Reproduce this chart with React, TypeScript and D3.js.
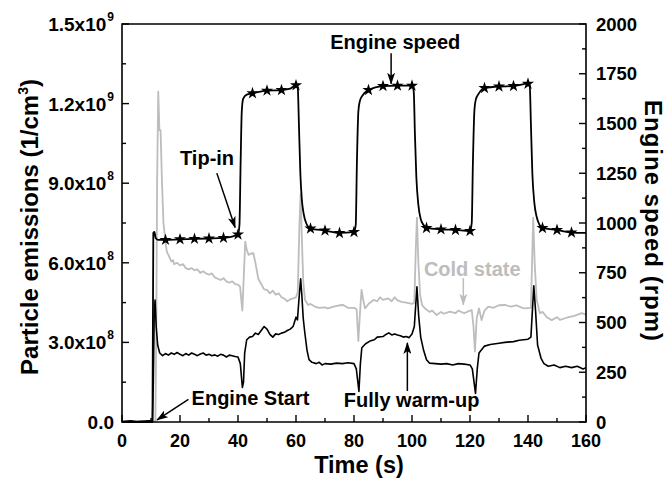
import React, { useEffect, useRef } from 'react';
import * as d3 from 'd3';

const W = 670;
const H = 478;
const margin = { top: 24, right: 84, bottom: 56, left: 122 };

// engine speed, [time s, rpm]
const speedRpm: [number, number][] = [
  [0, 0], [10.5, 0], [10.8, 950], [11.2, 955], [11.6, 925], [12.5, 915], [15, 915], [20, 918],
  [25, 920], [30, 922], [35, 925], [38, 932], [40, 942], [40.5, 990], [40.9, 1300], [41.3, 1560],
  [41.8, 1625], [43, 1645], [45, 1652], [50, 1665], [55, 1668], [58, 1675], [60, 1692], [60.6, 1680],
  [61, 1500], [61.5, 1250], [62, 1120], [62.6, 1050], [63.5, 1000], [65, 972], [70, 962], [75, 950],
  [80, 955], [80.6, 990], [81, 1300], [81.5, 1560], [82, 1612], [83, 1642], [85, 1668], [90, 1688],
  [95, 1690], [100, 1690], [100.6, 1660], [101, 1450], [101.5, 1230], [102.2, 1090], [103, 1020],
  [104, 990], [105, 975], [110, 968], [115, 965], [120, 960], [120.6, 1000], [121, 1300],
  [121.5, 1560], [122, 1620], [123, 1650], [125, 1678], [130, 1686], [135, 1688], [140, 1700],
  [140.6, 1690], [141, 1500], [141.5, 1250], [142.2, 1100], [143, 1030], [144, 990], [145, 975],
  [150, 965], [155, 952], [160, 950],
];

// times of the star markers on the speed trace
const starTimes = [15, 20, 25, 30, 35, 40, 45, 50, 55, 60, 65, 70, 75, 80, 85, 90, 95, 100,
  105, 110, 115, 120, 125, 130, 135, 140, 145, 150, 155];

// particle emissions, fully warmed-up engine, [time s, 1e8 #/cm3]
const warmEmission: [number, number][] = [
  [0, 0.02], [3, 0.05], [5, 0.02], [8, 0.04], [10.5, 0.05], [10.8, 1.5], [11.1, 4.0], [11.4, 4.6],
  [11.8, 3.6], [12.3, 2.9], [13, 2.6], [14, 2.5], [15, 2.58], [16, 2.52], [17, 2.6], [18, 2.55],
  [19, 2.62], [20, 2.55], [21, 2.5], [22, 2.58], [23, 2.52], [24, 2.6], [25, 2.55], [26, 2.5],
  [27, 2.56], [28, 2.6], [29, 2.52], [30, 2.55], [31, 2.5], [32, 2.53], [33, 2.48], [34, 2.55],
  [35, 2.52], [36, 2.45], [37, 2.52], [38, 2.5], [39, 2.47], [40, 2.45], [40.8, 2.2], [41.5, 1.3],
  [41.9, 1.5], [42.3, 2.6], [43, 3.1], [44, 3.2], [45, 3.22], [46, 3.35], [47, 3.3], [48, 3.45],
  [49, 3.6], [50, 3.5], [51, 3.3], [52, 3.2], [53, 3.32], [54, 3.3], [55, 3.35], [56, 3.38],
  [57, 3.45], [58, 3.5], [59, 3.6], [60, 3.95], [60.5, 3.85], [61, 4.6], [61.6, 5.4], [62, 4.8],
  [62.5, 3.9], [63, 3.4], [63.8, 2.7], [64.5, 2.35], [65.5, 2.25], [67, 2.2], [68, 2.25], [69, 2.15],
  [70, 2.2], [72, 2.18], [74, 2.22], [76, 2.2], [78, 2.23], [80, 2.2], [80.8, 2.0], [81.7, 1.15],
  [82.2, 2.2], [82.7, 2.8], [84, 2.95], [85.5, 3.05], [87, 3.1], [88, 3.2], [90, 3.22], [91, 3.3],
  [92, 3.36], [93, 3.28], [94, 3.32], [95, 3.28], [96, 3.25], [97, 3.2], [98, 3.22], [99, 3.18],
  [100, 3.32], [100.8, 3.6], [101.7, 5.1], [102.3, 4.0], [103, 3.2], [104, 2.7], [105, 2.35],
  [106, 2.22], [108, 2.2], [110, 2.18], [112, 2.2], [114, 2.15], [116, 2.2], [118, 2.18], [120, 2.15],
  [120.8, 2.0], [121.9, 1.08], [122.5, 2.0], [123.1, 2.6], [125, 2.86], [127, 2.92], [130, 2.97],
  [132, 3.0], [135, 3.03], [137, 3.08], [140, 3.12], [141, 3.2], [142, 5.13], [142.6, 4.2],
  [143.3, 2.9], [144.5, 2.4], [145.5, 2.2], [147, 2.1], [149, 2.15], [151, 2.05], [153, 2.1],
  [155, 2.05], [157, 2.1], [159, 2.0], [160, 2.05],
];

// particle emissions, cold engine, [time s, 1e8 #/cm3]
const coldEmission: [number, number][] = [
  [0, 0.02], [11.5, 0.03], [11.8, 3], [12.1, 9], [12.5, 12.45], [12.9, 11.0], [13.3, 11.0],
  [13.8, 9], [14.3, 7.5], [15, 6.75], [15.5, 6.4], [16, 6.3], [17, 6.05], [17.6, 6.1], [18, 5.95],
  [19, 6.0], [20, 5.9], [21, 5.95], [22, 5.8], [23, 5.75], [24, 5.8], [25, 5.72], [26, 5.75],
  [27, 5.62], [28, 5.68], [29, 5.6], [30, 5.55], [31, 5.6], [32, 5.45], [33, 5.4], [34, 5.35],
  [35, 5.42], [36, 5.3], [37, 5.25], [38, 5.3], [39, 5.2], [40, 5.18], [40.7, 5.1], [41.5, 4.2],
  [42.0, 5.5], [42.5, 6.8], [43, 6.5], [43.6, 6.3], [44.5, 6.35], [45.3, 6.36], [46, 6.0],
  [46.5, 5.7], [47, 5.4], [48, 5.2], [49, 5.0], [50, 4.98], [51, 4.85], [52, 4.95], [53, 4.8],
  [54, 4.85], [55, 4.7], [56, 4.65], [57, 4.55], [58, 4.62], [59, 4.66], [60, 4.7], [60.6, 4.9],
  [61.2, 7.5], [61.6, 8.6], [62, 7.0], [62.5, 5.3], [63.1, 4.6], [64.2, 4.41], [65, 4.45],
  [66.5, 4.35], [68, 4.3], [70, 4.32], [71, 4.28], [73, 4.35], [75, 4.4], [76.3, 4.41], [78, 4.3],
  [80, 4.3], [80.9, 4.25], [81.5, 3.05], [82, 4.0], [82.6, 4.98], [83.2, 4.6], [83.8, 4.28],
  [85, 4.45], [86.7, 4.6], [88, 4.55], [89, 4.7], [90, 4.6], [91.8, 4.66], [93, 4.55], [94, 4.7],
  [95, 4.58], [96.4, 4.53], [98, 4.5], [100, 4.45], [100.8, 4.5], [101.3, 6.5], [101.7, 7.7],
  [102.2, 6.0], [102.8, 4.8], [103.5, 4.4], [104.5, 4.28], [106, 4.15], [107, 4.2], [108.5, 4.03],
  [110, 4.15], [111, 4.08], [113, 4.16], [115, 4.1], [116, 4.2], [118, 4.1], [120, 4.2],
  [120.6, 4.22], [121.2, 3.6], [121.7, 2.65], [122.3, 3.9], [123.1, 4.28], [124, 3.84], [125, 4.2],
  [126.3, 4.35], [128, 4.3], [130, 4.4], [132, 4.41], [134, 4.35], [136, 4.4], [138, 4.3],
  [139, 4.28], [141, 4.3], [141.4, 6.0], [141.8, 7.7], [142.3, 6.0], [143, 4.6], [144.1, 4.1],
  [145, 4.15], [146.5, 3.95], [148.2, 3.84], [150, 3.95], [151, 3.85], [152.8, 3.91], [154, 3.95],
  [156, 4.0], [158.5, 4.1], [160, 4.05],
];

const xTicks = [0, 20, 40, 60, 80, 100, 120, 140, 160];
const xMinor = [10, 30, 50, 70, 90, 110, 130, 150];
const leftTicks = [0, 3, 6, 9, 12, 15];
const leftMinor = [1.5, 4.5, 7.5, 10.5, 13.5];
const leftTickText = ['0.0', '3.0x10', '6.0x10', '9.0x10', '1.2x10', '1.5x10'];
const leftTickExp = ['', '8', '8', '8', '9', '9'];
const rightTicks = [0, 250, 500, 750, 1000, 1250, 1500, 1750, 2000];
const rightMinor = [125, 375, 625, 875, 1125, 1375, 1625, 1875];

// annotations in data space (time s, 1e8 on the left axis)
const notes = [
  { text: 'Engine speed', t: 71.8, v: 14.05, color: '#000', from: [92.8, 13.9], to: [92.8, 12.75] },
  { text: 'Tip-in', t: 20.0, v: 9.69, color: '#000', from: [32.7, 9.38], to: [39.0, 7.33] },
  { text: 'Engine Start', t: 24.0, v: 0.64, color: '#000', from: [22.9, 0.85], to: [12.1, 0.08] },
  { text: 'Fully warm-up', t: 76.5, v: 0.57, color: '#000', from: [98.4, 1.17], to: [98.4, 2.98] },
  { text: 'Cold state', t: 104.1, v: 5.5, color: '#bdbdbd', from: [117.7, 5.42], to: [117.7, 4.42] },
];

const FONT = "'Liberation Sans', Arial, Helvetica, sans-serif";

export default function App() {
  const svgRef = useRef<SVGSVGElement>(null);

  useEffect(() => {
    const svg = d3.select(svgRef.current);
    svg.selectAll('*').remove();

    const x = d3.scaleLinear().domain([0, 160]).range([margin.left, W - margin.right]);
    const yL = d3.scaleLinear().domain([0, 15]).range([H - margin.bottom, margin.top]);
    const yR = d3.scaleLinear().domain([0, 2000]).range([H - margin.bottom, margin.top]);
    const x0 = margin.left, x1 = W - margin.right, y0 = H - margin.bottom, y1 = margin.top;

    svg.append('rect').attr('width', W).attr('height', H).attr('fill', '#fff');

    const defs = svg.append('defs');
    [['head-k', '#000'], ['head-g', '#bdbdbd']].forEach(([id, c]) => {
      defs.append('marker')
        .attr('id', id)
        .attr('viewBox', '0 0 12 8')
        .attr('refX', 11)
        .attr('refY', 4)
        .attr('markerWidth', 12)
        .attr('markerHeight', 8)
        .attr('markerUnits', 'userSpaceOnUse')
        .attr('orient', 'auto')
        .append('path')
        .attr('d', 'M0,0 L12,4 L0,8 L3,4 Z')
        .attr('fill', c);
    });

    const lineL = d3.line<[number, number]>().x((d) => x(d[0])).y((d) => yL(d[1]));
    const lineR = d3.line<[number, number]>().x((d) => x(d[0])).y((d) => yR(d[1])).curve(d3.curveMonotoneX);

    // cold state
    svg.append('path').datum(coldEmission).attr('d', lineL)
      .attr('fill', 'none').attr('stroke', '#bdbdbd').attr('stroke-width', 1.8).attr('stroke-linejoin', 'round');
    // fully warm-up
    svg.append('path').datum(warmEmission).attr('d', lineL)
      .attr('fill', 'none').attr('stroke', '#000').attr('stroke-width', 1.6).attr('stroke-linejoin', 'round');
    // engine speed
    svg.append('path').datum(speedRpm).attr('d', lineR)
      .attr('fill', 'none').attr('stroke', '#000').attr('stroke-width', 1.8);

    const star = d3.symbol().type(d3.symbolStar).size(46);
    const starPts = speedRpm.filter((d) => starTimes.includes(d[0]));
    svg.append('g').selectAll('path').data(starPts).join('path')
      .attr('d', star)
      .attr('transform', (d) => `translate(${x(d[0])},${yR(d[1])})`)
      .attr('fill', '#000');

    // frame
    svg.append('path')
      .attr('d', `M${x0},${y0}V${y1}H${x1}V${y0}Z`)
      .attr('fill', 'none').attr('stroke', '#000').attr('stroke-width', 1.6);

    const tickG = svg.append('g').attr('stroke', '#000').attr('stroke-width', 1.4);
    xTicks.forEach((t) => tickG.append('line').attr('x1', x(t)).attr('x2', x(t)).attr('y1', y0).attr('y2', y0 - 7));
    xMinor.forEach((t) => tickG.append('line').attr('x1', x(t)).attr('x2', x(t)).attr('y1', y0).attr('y2', y0 - 4));
    leftTicks.forEach((v) => tickG.append('line').attr('y1', yL(v)).attr('y2', yL(v)).attr('x1', x0).attr('x2', x0 + 7));
    leftMinor.forEach((v) => tickG.append('line').attr('y1', yL(v)).attr('y2', yL(v)).attr('x1', x0).attr('x2', x0 + 4));
    rightTicks.forEach((v) => tickG.append('line').attr('y1', yR(v)).attr('y2', yR(v)).attr('x1', x1).attr('x2', x1 - 7));
    rightMinor.forEach((v) => tickG.append('line').attr('y1', yR(v)).attr('y2', yR(v)).attr('x1', x1).attr('x2', x1 - 4));

    const txt = svg.append('g').attr('font-family', FONT).attr('font-weight', 'bold').attr('fill', '#000');

    xTicks.forEach((t) => {
      txt.append('text').attr('x', x(t)).attr('y', y0 + 25).attr('text-anchor', 'middle')
        .attr('font-size', 18).text(t);
    });

    leftTicks.forEach((v, i) => {
      const el = txt.append('text').attr('x', x0 - 8).attr('y', yL(v) + 7).attr('text-anchor', 'end')
        .attr('font-size', 19);
      el.append('tspan').text(leftTickText[i]);
      if (leftTickExp[i]) {
        el.append('tspan').attr('dy', -10).attr('dx', 1).attr('font-size', 12).text(leftTickExp[i]);
      }
    });

    rightTicks.forEach((v) => {
      txt.append('text').attr('x', x1 + 10).attr('y', yR(v) + 6.5).attr('font-size', 18.5).text(v);
    });

    txt.append('text').attr('x', (x0 + x1) / 2 + 5).attr('y', 473).attr('text-anchor', 'middle')
      .attr('font-size', 23.5).text('Time (s)');

    const lt = txt.append('text').attr('transform', `translate(38,${(y0 + y1) / 2 + 4}) rotate(-90)`)
      .attr('text-anchor', 'middle').attr('font-size', 24);
    lt.append('tspan').text('Particle emissions (1/cm');
    lt.append('tspan').attr('dy', -10).attr('font-size', 14).text('3');
    lt.append('tspan').attr('dy', 10).text(')');

    txt.append('text').attr('transform', `translate(645,${(y0 + y1) / 2 - 2}) rotate(90)`)
      .attr('text-anchor', 'middle').attr('font-size', 24).attr('letter-spacing', 1)
      .text('Engine speed (rpm)');

    // annotations
    notes.forEach((n) => {
      txt.append('text').attr('x', x(n.t)).attr('y', yL(n.v)).attr('font-size', 20)
        .attr('fill', n.color).text(n.text);
      svg.append('line')
        .attr('x1', x(n.from[0])).attr('y1', yL(n.from[1]))
        .attr('x2', x(n.to[0])).attr('y2', yL(n.to[1]))
        .attr('stroke', n.color).attr('stroke-width', 1.5)
        .attr('marker-end', `url(#${n.color === '#000' ? 'head-k' : 'head-g'})`);
    });
  }, []);

  return (
    <svg
      ref={svgRef}
      width={W}
      height={H}
      style={{ position: 'fixed', left: 0, top: 0, display: 'block' }}
    />
  );
}
